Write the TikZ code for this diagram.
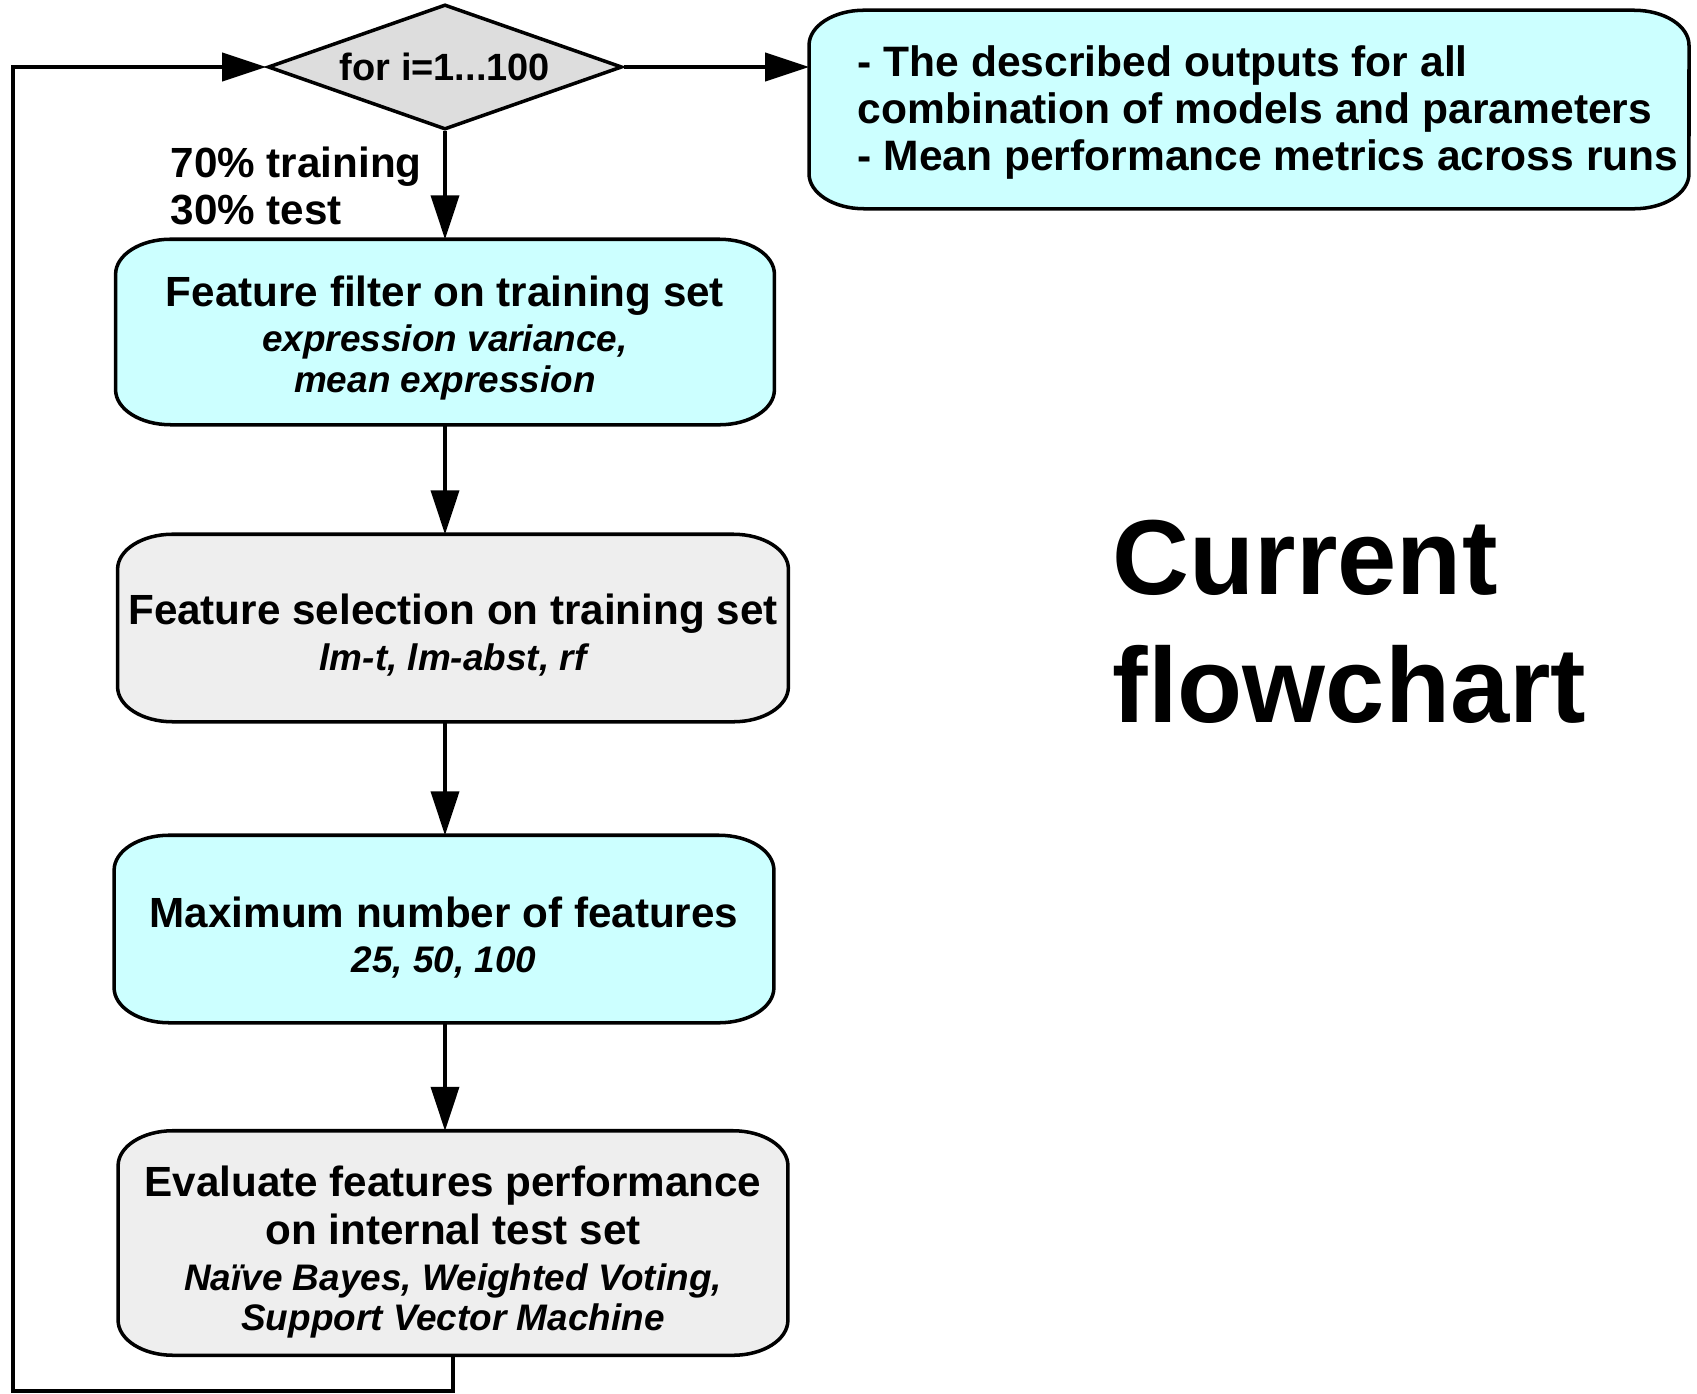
\documentclass[tikz,border=0pt]{standalone}
\usepackage{fontspec}
\setmainfont{Liberation Sans}
\usetikzlibrary{shapes.geometric,arrows.meta,calc,backgrounds}
\definecolor{boxcyan}{HTML}{CCFFFF}
\definecolor{boxgray}{HTML}{EEEEEE}
\definecolor{diagray}{HTML}{DDDDDD}
\newcommand{\ellbox}[2]{%
  \begin{pgfonlayer}{background}
  \draw[boxline,fill=#2] ($(#1.north west)+(55,0)$) -- ($(#1.north east)+(-55,0)$)
    arc[start angle=90,end angle=0,x radius=0.55cm,y radius=0.35cm]
    -- ($(#1.south east)+(0,35)$)
    arc[start angle=0,end angle=-90,x radius=0.55cm,y radius=0.35cm]
    -- ($(#1.south west)+(55,0)$)
    arc[start angle=270,end angle=180,x radius=0.55cm,y radius=0.35cm]
    -- ($(#1.north west)+(0,-35)$)
    arc[start angle=180,end angle=90,x radius=0.55cm,y radius=0.35cm]
    -- cycle;
  \end{pgfonlayer}}
\newcommand{\subl}[1]{{\fontsize{10.5}{11.7}\selectfont\itshape #1}}
\newcommand{\btext}[2][2.4pt]{\raisebox{-#1}[\height][\depth]{\begin{tabular}{@{}c@{}}#2\end{tabular}}}
\begin{document}
\begin{tikzpicture}[x=0.01cm,y=0.01cm,
  boxline/.style={line width=1pt},
  procbox/.style={rectangle,inner sep=0pt,
    font=\bfseries\fontsize{12}{13}\selectfont},
  decision/.style={diamond,aspect=2.83,draw,line width=1pt,fill=diagray,inner sep=0pt,
    font=\bfseries\fontsize{10.8}{12}\selectfont},
  arr/.style={line width=1pt,line join=miter,-{Triangle[length=12.5pt,width=8pt]}},
  lbl/.style={align=left,inner sep=0pt,font=\bfseries\fontsize{12}{13.4}\selectfont}]
\useasboundingbox (0,0) rectangle (1697,-1394);

\node[decision,minimum width=3.54cm,minimum height=1.25cm] (dia) at (445,-67) {for i=1...100};
\node[procbox,minimum width=8.78cm,minimum height=1.97cm,
  font=\bfseries\fontsize{12.1}{13.4}\selectfont] (out) at (1249,-109.5)
  {\raisebox{-1.2pt}[\height][\depth]{\begin{tabular}{@{\hspace{0.38cm}}l@{}}- The described outputs for all\\combination of models and parameters\\- Mean performance metrics across runs\end{tabular}}};
\node[procbox,minimum width=6.57cm,minimum height=1.84cm] (b1) at (445,-332)
  {\btext{Feature filter on training set\\[-0.4pt]\subl{expression variance,}\\[-1.3pt]\subl{mean expression}}};
\node[procbox,minimum width=6.69cm,minimum height=1.86cm] (b2) at (453,-628)
  {\btext[3pt]{Feature selection on training set\\\subl{lm-t, lm-abst, rf}}};
\node[procbox,minimum width=6.58cm,minimum height=1.86cm] (b3) at (444,-929)
  {\btext[3.4pt]{Maximum number of features\\[-0.4pt]\subl{25, 50, 100}}};
\node[procbox,minimum width=6.68cm,minimum height=2.23cm] (b4) at (453,-1243)
  {\btext[3.3pt]{Evaluate features performance\\[0.5pt]on internal test set\\[0.2pt]\subl{Naïve Bayes, Weighted Voting,}\\[-1.6pt]\subl{Support Vector Machine}}};

\node[lbl,anchor=west] (split) at (170,-186) {70\% training\\30\% test};
\node[align=left,inner sep=0pt,anchor=west,font=\bfseries\fontsize{30.3}{36.4}\selectfont] (title) at (1112,-622) {Current\\flowchart};

\ellbox{out}{boxcyan}
\ellbox{b1}{boxcyan}
\ellbox{b2}{boxgray}
\ellbox{b3}{boxcyan}
\ellbox{b4}{boxgray}

\coordinate (lb) at (13,-1391);
\coordinate (lt) at (13,-67);

\draw[arr] (dia.east) -- (dia.east -| out.west);
\draw[arr] (dia.south) -- (dia.south |- b1.north);
\draw[arr] (b1.south -| dia.south) -- (dia.south |- b2.north);
\draw[arr] (b2.south -| dia.south) -- (dia.south |- b3.north);
\draw[arr] (b3.south -| dia.south) -- (dia.south |- b4.north);
\draw[arr] (b4.south) |- (lb) -- (lt) -- (dia.west);
\end{tikzpicture}
\end{document}
